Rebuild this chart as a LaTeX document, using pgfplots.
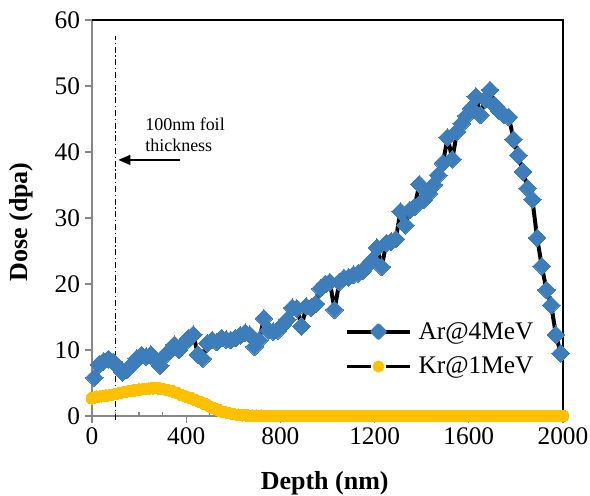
\documentclass[border=0pt]{standalone}
\usepackage{fontspec}
\setmainfont{Liberation Serif}
\usepackage{pgfplots}
\usepackage{pgfplotstable}
\pgfplotsset{compat=1.18}
\usetikzlibrary{arrows.meta}
\definecolor{arblue}{RGB}{61,126,186}
\definecolor{krorange}{RGB}{255,192,0}
\definecolor{axgray}{RGB}{134,134,134}

\pgfplotstableread{
x y
10 5.8
30 7.8
50 8.3
70 8.6
90 8.2
110 7.5
130 6.6
150 7.0
170 7.8
190 8.7
210 9.2
230 9.0
250 9.3
270 8.5
290 7.6
310 9.2
330 9.8
350 10.8
370 10.0
390 11.0
410 11.8
430 12.3
450 9.3
470 8.7
490 11.0
510 11.5
530 11.2
550 11.8
570 11.6
590 11.5
610 11.8
630 12.2
650 12.6
670 12.3
690 10.5
710 11.5
730 14.8
750 13.0
770 12.8
790 13.0
810 13.8
830 14.6
850 16.4
870 16.3
890 13.6
910 16.6
930 16.4
950 17.0
970 19.3
990 20.0
1010 20.3
1030 16.1
1050 20.3
1070 20.9
1090 21.0
1110 21.4
1130 21.6
1150 22.0
1170 22.8
1190 23.6
1210 25.5
1230 22.6
1250 26.2
1270 26.4
1290 26.8
1310 31.0
1330 28.9
1350 31.2
1370 31.7
1390 35.1
1410 32.8
1430 33.7
1450 35.0
1470 36.5
1490 38.3
1510 42.2
1530 38.9
1550 43.1
1570 44.3
1590 45.5
1610 46.6
1630 48.4
1650 45.6
1670 48.0
1690 49.4
1710 47.1
1730 46.2
1750 45.6
1770 45.3
1790 41.9
1810 39.5
1830 37.0
1850 34.5
1870 32.8
1890 27.0
1910 22.7
1930 19.1
1950 16.8
1970 12.3
1990 9.5
}\ardata

\pgfplotstableread{
x y
0 2.7
20 2.9
40 3.0
60 3.1
80 3.2
100 3.35
120 3.5
140 3.65
160 3.8
180 3.9
200 4.0
220 4.1
240 4.15
260 4.2
280 4.2
300 4.1
320 3.95
340 3.75
360 3.5
380 3.2
400 2.95
420 2.7
440 2.4
460 2.1
480 1.8
500 1.45
520 1.15
540 0.85
560 0.6
580 0.45
600 0.3
620 0.2
640 0.13
660 0.08
680 0.05
700 0.03
720 0.02
740 0
760 0
780 0
800 0
820 0
840 0
860 0
880 0
900 0
920 0
940 0
960 0
980 0
1000 0
1020 0
1040 0
1060 0
1080 0
1100 0
1120 0
1140 0
1160 0
1180 0
1200 0
1220 0
1240 0
1260 0
1280 0
1300 0
1320 0
1340 0
1360 0
1380 0
1400 0
1420 0
1440 0
1460 0
1480 0
1500 0
1520 0
1540 0
1560 0
1580 0
1600 0
1620 0
1640 0
1660 0
1680 0
1700 0
1720 0
1740 0
1760 0
1780 0
1800 0
1820 0
1840 0
1860 0
1880 0
1900 0
1920 0
1940 0
1960 0
1980 0
2000 0
}\krdata

\begin{document}
\begin{tikzpicture}
\path[use as bounding box] (-69pt,-60pt) rectangle (373.5pt,312pt);
\begin{axis}[
  at={(0,0)}, anchor=south west,
  scale only axis, width=353.25pt, height=297pt,
  xmin=0, xmax=2000, ymin=0, ymax=60,
  clip=false,
  axis x line*=bottom, axis y line*=left,
  axis line style={axgray, line width=1.3pt, -},
  xtick={0,400,...,2000},
  extra x ticks={100,200,300,500,600,700,900,1000,1100,1300,1400,1500,1700,1800,1900},
  extra x tick labels={},
  extra x tick style={xtick align=inside, major tick length=3pt},
  ytick={0,10,...,60},
  minor tick num=0,
  xtick align=outside, ytick align=outside,
  major tick length=5.5pt,
  tick style={axgray, line width=1pt},
  tick label style={font=\fontsize{19}{22}\selectfont, black},
  /pgf/number format/assume math mode=true,
  /pgf/number format/1000 sep={},
  xlabel={\textbf{Depth (nm)}},
  ylabel={\textbf{Dose (dpa)}},
  label style={font=\fontsize{19.5}{22}\selectfont},
  xlabel style={at={(axis description cs:0.494,-0.169)}, anchor=center},
  ylabel style={at={(axis description cs:-0.150,0.49)}, anchor=center},
  legend style={at={(rel axis cs:0.537,0.169)}, anchor=west, draw=none, fill=none,
    inner sep=0pt, row sep=8pt, column sep=3pt,
    font=\fontsize{19}{22}\selectfont},
  legend cell align=left,
]
\addplot[black, line width=3pt, line join=round, mark=square*, mark size=4.7pt,
  mark options={fill=arblue, draw=arblue, line width=0pt, solid, rotate=45},
  legend image code/.code={
    \draw[black, line width=3pt] (0pt,0pt) -- (47pt,0pt);
    \fill[arblue] (23.5pt,4.6pt) -- (28.1pt,0pt) -- (23.5pt,-4.6pt) -- (18.9pt,0pt) -- cycle;
  }] table {\ardata};
\addlegendentry{Ar@4MeV}
\addplot[black, line width=1.5pt, mark=*, mark size=4.4pt,
  mark options={fill=krorange, draw=krorange, line width=0pt, solid},
  legend image code/.code={
    \draw[black, line width=2pt] (0pt,0pt) -- (47pt,0pt);
    \fill[white] (23.5pt,0pt) circle (5pt);
    \fill[krorange] (23.5pt,0pt) circle (3.7pt);
  }] table {\krdata};
\addlegendentry{Kr@1MeV}
\addplot[black, line width=0.8pt, dash pattern=on 4.5pt off 2pt on 1pt off 2pt, forget plot]
  coordinates {(100,-0.6) (100,57.5)};
\draw[black, line width=1pt, -{Triangle[length=9pt, width=7.5pt]}] (axis cs:375,38.8) -- (axis cs:112,38.8);
\node[anchor=west, align=left, font=\fontsize{13.5}{16}\selectfont, inner sep=0pt]
  at (axis cs:225,42.65) {100nm foil\\thickness};
\draw[black, line width=1pt] (rel axis cs:0,1) -- (rel axis cs:1,1) -- (rel axis cs:1,0);
\end{axis}
\end{tikzpicture}
\end{document}
